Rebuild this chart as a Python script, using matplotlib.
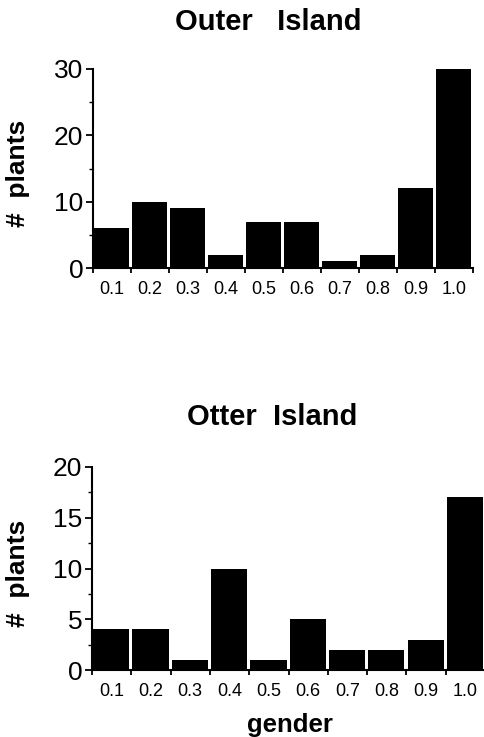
import numpy as np
import matplotlib
matplotlib.use("Agg")
import matplotlib.pyplot as plt
from matplotlib.ticker import MultipleLocator

plt.rcParams['font.family'] = ['Liberation Sans', 'DejaVu Sans']

# gender classes and plant counts
gender_labels = ['0.1', '0.2', '0.3', '0.4', '0.5', '0.6', '0.7', '0.8', '0.9', '1.0']
outer_counts = [6, 10, 9, 2, 7, 7, 1, 2, 12, 30]
otter_counts = [4, 4, 1, 10, 1, 5, 2, 2, 3, 17]

W, H = 484, 737
fig = plt.figure(figsize=(W / 100, H / 100), dpi=100)


def panel(rect, counts, ymax, ymajor, yminor):
    ax = fig.add_axes(rect)
    x = np.arange(len(counts))
    ax.bar(x + 0.03, counts, width=0.92, align='edge', color='black', linewidth=0)
    ax.set_xlim(0, len(counts))
    ax.set_ylim(0, ymax)
    for s in ['top', 'right']:
        ax.spines[s].set_visible(False)
    for s in ['left', 'bottom']:
        ax.spines[s].set_linewidth(1.5)
    # bin edges get the ticks, labels sit in the middle of each bar
    ax.set_xticks(np.arange(len(counts) + 1))
    ax.set_xticklabels([])
    ax.set_xticks(x + 0.5, minor=True)
    ax.set_xticklabels(gender_labels, minor=True, fontsize=13)
    ax.tick_params(axis='x', which='major', direction='out', length=3.5, width=1.3)
    ax.tick_params(axis='x', which='minor', length=0, pad=9)
    ax.yaxis.set_major_locator(MultipleLocator(ymajor))
    ax.yaxis.set_minor_locator(MultipleLocator(yminor))
    ax.tick_params(axis='y', which='major', direction='out', length=5, width=1.3,
                   labelsize=19, pad=2)
    ax.tick_params(axis='y', which='minor', direction='out', length=3, width=1.0)
    return ax


top = panel([93 / W, 1 - 268 / H, 380 / W, 199 / H], outer_counts, 30, 10, 5)
bot = panel([92 / W, 1 - 670 / H, 393 / W, 203 / H], otter_counts, 20, 5, 2.5)

fig.text(268 / W, 1 - 22 / H, 'Outer   Island', ha='center', va='center',
         fontsize=21, fontweight='bold')
fig.text(272 / W, 1 - 417 / H, 'Otter  Island', ha='center', va='center',
         fontsize=21, fontweight='bold')
fig.text(18 / W, 1 - 173 / H, '#  plants', ha='center', va='center', rotation=90,
         fontsize=19, fontweight='bold')
fig.text(18 / W, 1 - 573 / H, '#  plants', ha='center', va='center', rotation=90,
         fontsize=19, fontweight='bold')
fig.text(290 / W, 1 - 725 / H, 'gender', ha='center', va='center',
         fontsize=18.5, fontweight='bold')

fig.savefig('out.png', dpi=100)
